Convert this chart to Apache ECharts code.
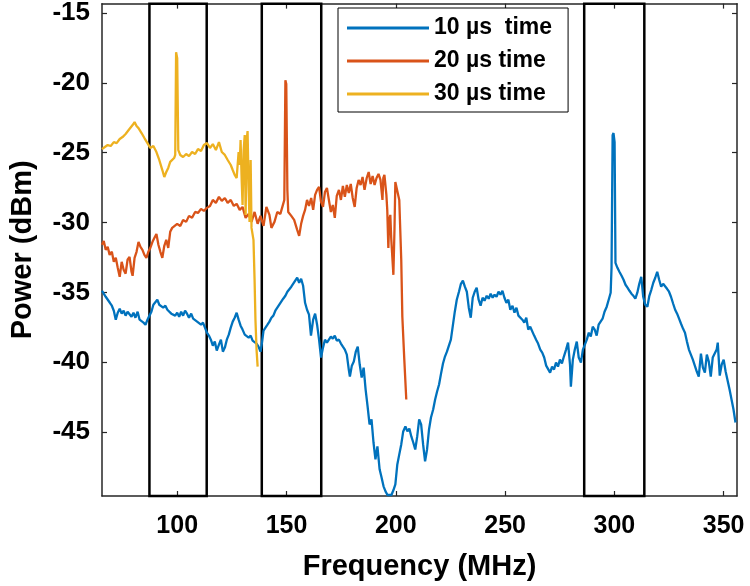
<!DOCTYPE html>
<html><head><meta charset="utf-8">
<script src="https://cdn.jsdelivr.net/npm/echarts@6/dist/echarts.min.js"></script>
<style>html,body{margin:0;padding:0;background:#fff}#c{width:750px;height:586px}</style>
</head><body><div id="c"></div>
<script>
const seriesNames = ['10 µs  time', '20 µs time', '30 µs time'];
const xTicks = [100, 150, 200, 250, 300, 350];
const yTicks = [-45, -40, -35, -30, -25, -20, -15];
const boxRanges = [[87.3, 113.5], [138.7, 165.9], [286.2, 313.7]];

const blueX = [65.6,66.4,67.3,68.2,69.2,70.1,71.0,71.9,72.8,73.7,74.6,75.5,76.4,77.3,78.2,79.1,80.0,80.9,81.9,82.8,83.7,84.6,85.5,86.4,87.3,88.2,89.1,90.0,90.9,91.8,92.7,93.6,94.6,95.5,96.4,97.3,98.2,99.1,100.0,100.9,101.8,102.7,103.6,104.5,105.4,106.4,107.3,108.2,109.1,110.0,110.9,111.8,112.7,113.6,114.5,115.4,116.3,117.2,118.1,119.1,120.0,120.9,121.8,122.7,123.6,124.5,125.4,126.3,127.2,128.1,129.0,129.9,130.9,131.8,132.7,133.6,134.5,135.4,136.3,137.2,138.1,138.6,139.5,140.4,141.3,142.2,143.1,144.0,144.9,145.8,146.7,147.6,148.5,149.5,150.4,151.3,152.2,153.1,154.0,154.9,155.8,156.7,157.6,158.5,159.4,160.3,161.2,162.2,163.1,164.0,164.9,165.8,166.7,167.6,168.5,169.4,170.3,171.2,172.1,173.0,174.0,174.9,175.8,176.7,177.6,178.5,179.0,179.9,180.8,181.7,182.6,183.5,184.4,185.3,186.2,187.1,188.0,188.9,189.8,190.7,191.6,192.6,193.5,194.4,195.3,196.2,197.1,198.0,198.9,199.8,200.7,201.6,202.5,203.4,204.4,205.3,206.2,207.1,208.0,208.9,209.8,210.7,211.6,212.5,213.4,214.3,215.2,216.1,217.1,218.0,218.9,219.8,220.7,221.6,222.5,223.4,224.3,225.2,226.1,227.0,227.9,228.9,229.8,230.7,231.6,232.5,233.4,234.3,235.2,236.1,237.0,237.9,238.8,239.7,240.6,241.6,242.5,243.4,244.3,245.2,246.1,247.0,247.9,248.8,249.7,250.6,251.5,252.4,253.4,254.3,255.2,256.1,257.0,257.9,258.8,259.7,260.6,261.5,262.4,263.3,264.2,265.1,266.1,267.0,267.9,268.8,269.7,270.6,271.5,272.4,273.3,274.2,275.1,276.0,276.9,277.9,278.8,279.7,280.1,281.0,281.9,282.8,283.7,284.7,285.6,286.5,287.4,288.3,289.2,290.1,291.0,291.9,292.8,293.7,294.6,295.5,296.5,297.4,298.3,298.7,299.2,299.6,300.1,300.5,301.4,302.3,303.3,304.2,305.1,306.0,306.9,307.8,308.7,309.6,310.5,311.4,312.3,313.2,314.1,315.1,316.0,316.9,317.8,318.7,319.6,320.5,321.4,322.3,323.2,324.1,325.0,325.9,326.9,327.8,328.7,329.6,330.5,331.4,332.3,333.2,334.1,335.0,335.9,336.8,337.7,338.6,339.6,340.5,341.4,342.3,343.2,344.1,345.0,345.9,346.8,347.3,348.2,349.1,350.0,350.9,351.8,352.7,353.6,354.5,355.4];
const blueY = [-34.88,-35.09,-35.31,-35.24,-35.74,-35.95,-36.31,-36.95,-36.45,-36.16,-36.52,-36.31,-36.66,-36.38,-36.24,-36.74,-36.45,-36.81,-36.38,-36.95,-36.81,-37.16,-37.31,-36.95,-36.66,-36.38,-35.88,-35.74,-35.52,-35.88,-35.74,-36.09,-35.95,-36.24,-36.16,-36.52,-36.38,-36.66,-36.45,-36.74,-36.38,-36.66,-36.31,-36.52,-36.81,-36.52,-36.88,-36.81,-37.09,-36.95,-37.31,-37.16,-37.52,-37.88,-38.09,-38.38,-38.81,-38.52,-39.16,-38.74,-38.38,-39.24,-38.95,-38.38,-38.02,-37.52,-37.09,-36.81,-36.45,-36.95,-37.38,-37.66,-38.02,-37.88,-38.24,-38.09,-38.45,-38.31,-38.66,-38.88,-39.24,-38.81,-37.74,-37.52,-37.31,-37.09,-36.81,-36.66,-36.31,-36.09,-35.95,-35.66,-35.45,-35.24,-34.95,-34.81,-34.59,-34.45,-34.16,-33.95,-34.31,-34.02,-34.52,-35.74,-36.24,-36.59,-38.09,-36.95,-36.52,-37.31,-38.38,-39.66,-38.95,-38.38,-38.59,-38.45,-38.16,-38.31,-38.09,-38.45,-38.38,-38.66,-38.88,-39.09,-39.45,-40.52,-41.02,-40.24,-39.95,-39.24,-38.88,-40.16,-41.09,-40.38,-41.95,-43.16,-44.45,-44.09,-45.74,-46.95,-46.02,-47.66,-48.24,-48.88,-49.24,-49.5,-49.38,-49.5,-49.16,-48.74,-47.31,-46.59,-45.88,-44.95,-44.59,-44.95,-44.74,-45.31,-45.74,-46.24,-45.31,-44.09,-44.45,-45.88,-47.09,-46.24,-44.81,-43.95,-43.38,-42.66,-42.09,-41.59,-40.81,-40.09,-39.59,-39.24,-38.81,-38.38,-37.38,-36.38,-35.52,-34.95,-34.38,-34.16,-34.59,-34.95,-36.09,-36.81,-35.38,-34.95,-34.66,-35.52,-35.95,-35.38,-35.59,-35.24,-35.45,-35.09,-35.38,-35.16,-35.31,-34.95,-35.16,-34.88,-35.38,-35.74,-35.52,-36.24,-35.95,-36.45,-36.09,-36.66,-36.52,-36.95,-37.16,-36.81,-37.66,-37.45,-37.59,-38.09,-38.38,-38.66,-39.09,-39.31,-39.66,-40.24,-40.38,-40.74,-40.31,-40.52,-40.02,-40.31,-39.81,-40.09,-39.59,-39.09,-38.59,-40.16,-41.74,-39.81,-39.09,-38.52,-39.66,-40.02,-39.09,-38.74,-38.38,-37.88,-38.16,-37.45,-37.66,-38.09,-37.31,-37.09,-36.88,-36.38,-36.02,-35.52,-35.02,-33.24,-23.74,-23.59,-24.24,-32.88,-33.24,-33.52,-33.81,-34.09,-34.45,-34.66,-34.88,-35.09,-35.24,-35.45,-35.02,-34.38,-33.88,-35.31,-35.88,-36.02,-35.24,-34.81,-34.31,-33.95,-33.52,-34.09,-34.59,-34.38,-34.45,-34.74,-34.95,-35.31,-35.81,-36.24,-36.52,-36.88,-37.24,-37.59,-37.88,-38.52,-39.09,-39.45,-39.81,-40.24,-40.66,-41.02,-39.38,-40.38,-40.74,-39.45,-39.95,-41.02,-39.66,-39.59,-39.09,-38.59,-40.95,-40.16,-39.81,-40.66,-40.74,-41.95,-42.66,-43.38,-44.31];

const orangeX = [65.6,66.4,67.3,68.2,69.1,70.1,71.0,71.9,72.8,73.7,74.6,75.5,76.4,77.3,78.2,79.1,79.6,80.5,81.4,82.3,83.2,84.1,85.0,85.9,86.8,87.7,88.7,89.6,90.5,91.4,92.3,93.2,94.1,95.0,95.9,96.8,97.7,98.6,100.0,101.4,102.7,104.1,105.4,106.8,108.2,109.5,110.9,112.2,113.6,115.0,116.3,117.7,119.1,120.4,121.8,123.1,124.5,125.9,127.2,128.6,129.9,131.3,132.7,134.0,135.4,136.8,138.1,139.5,140.8,142.2,143.1,144.5,145.8,147.2,148.5,149.0,149.5,149.9,150.4,150.8,152.2,153.5,154.9,155.8,156.7,157.6,158.5,159.4,160.3,161.3,162.2,163.1,164.0,164.9,165.8,166.7,167.6,168.5,169.4,170.3,171.2,172.1,173.0,174.0,174.9,175.8,176.7,177.6,178.5,179.4,180.3,181.2,182.1,183.0,183.9,184.8,185.7,186.7,187.6,188.5,189.4,190.3,191.2,192.1,193.0,193.9,194.3,194.8,195.7,196.1,196.6,197.0,197.5,197.9,198.5,198.9,199.4,199.8,200.7,201.6,202.5,203.0,203.9,204.8];
const orangeY = [-31.59,-31.31,-31.95,-31.74,-32.31,-32.09,-32.81,-32.52,-33.24,-33.88,-32.81,-33.38,-33.66,-32.66,-32.45,-33.52,-33.81,-32.52,-32.09,-31.38,-31.74,-31.95,-32.31,-32.52,-32.09,-31.81,-31.38,-31.09,-30.81,-31.59,-32.09,-32.52,-31.66,-31.24,-31.81,-30.66,-30.38,-30.52,-30.09,-30.24,-29.81,-29.95,-29.52,-29.66,-29.24,-29.31,-29.02,-29.16,-28.95,-28.81,-28.38,-28.59,-28.16,-28.45,-28.24,-28.59,-28.38,-28.81,-28.66,-29.09,-28.88,-29.66,-29.38,-29.95,-29.24,-30.09,-29.52,-30.24,-28.88,-29.45,-30.38,-29.95,-29.24,-29.38,-28.66,-28.38,-19.81,-20.09,-27.66,-29.24,-29.52,-29.81,-30.52,-30.95,-30.09,-29.52,-29.09,-28.38,-28.81,-28.24,-29.09,-28.02,-27.66,-27.45,-28.52,-28.88,-27.81,-27.52,-28.38,-29.24,-28.74,-29.66,-28.09,-27.66,-28.38,-27.38,-28.16,-27.31,-27.88,-27.24,-28.24,-28.88,-27.52,-26.95,-27.31,-26.74,-27.66,-26.81,-26.38,-27.24,-26.66,-27.31,-26.81,-26.52,-26.95,-28.38,-26.81,-26.59,-28.02,-29.09,-31.81,-29.81,-29.45,-31.09,-30.95,-33.74,-30.52,-27.09,-26.95,-28.38,-32.66,-36.74,-39.81,-42.66];

const yellowX = [65.6,66.9,68.2,69.6,71.0,72.3,73.7,75.0,76.4,77.8,78.7,79.6,80.5,81.4,82.3,83.7,85.0,86.4,87.7,89.1,90.5,91.8,93.2,94.1,95.0,95.9,96.8,97.7,98.6,99.1,99.5,100.0,100.5,101.4,102.7,104.1,105.4,106.8,108.2,109.5,110.9,112.2,113.6,115.0,116.3,117.7,119.1,120.4,121.8,123.1,124.5,125.4,126.3,127.2,128.1,128.6,129.0,129.5,129.9,130.4,130.9,131.3,131.8,132.2,132.7,133.1,133.6,134.0,134.9,135.4,135.8,136.3,136.8];
const yellowY = [-24.74,-24.59,-24.45,-24.52,-24.24,-24.31,-24.02,-23.88,-23.66,-23.38,-23.52,-23.02,-22.81,-23.09,-23.24,-23.59,-23.95,-24.31,-24.66,-24.52,-24.95,-25.52,-26.24,-26.74,-26.38,-26.09,-25.66,-25.52,-25.38,-25.16,-17.81,-18.24,-24.81,-25.16,-25.31,-25.09,-25.24,-24.95,-25.09,-24.74,-24.88,-24.45,-24.31,-24.66,-24.38,-24.81,-24.24,-24.95,-25.16,-25.52,-25.88,-26.24,-26.59,-26.81,-24.95,-25.88,-24.09,-26.95,-28.74,-24.81,-23.74,-29.45,-24.09,-23.45,-27.67,-29.95,-25.52,-30.38,-31.24,-34.09,-36.95,-39.09,-40.31];

const xMin = 65.6, xMax = 356.1, yMin = -49.57, yMax = -14.33;
const colors = ['#0072BD', '#D95319', '#EDB120'];
const FONT = '"Liberation Sans", Arial, Helvetica, sans-serif';

function pairs(xs, ys) { return xs.map((x, i) => [x, ys[i]]); }

const chart = echarts.init(document.getElementById('c'), null, {renderer: 'canvas'});
const axisLineStyle = {color: '#262626', width: 1.5};
const tickStyle = {color: '#262626', width: 1.2};
chart.setOption({
  animation: false,
  backgroundColor: '#fff',
  grid: {left: 97, right: 13, top: 3, bottom: 90, containLabel: false},
  legend: {
    orient: 'vertical', left: 338, top: 8,
    data: seriesNames,
    icon: 'rect',
    backgroundColor: '#fff', borderColor: '#000', borderWidth: 1, borderRadius: 0,
    padding: [8, 16, 6, 9],
    itemWidth: 82, itemHeight: 3, itemGap: 9,
    textStyle: {fontFamily: FONT, fontSize: 23, fontWeight: 'bold', color: '#000', lineHeight: 24},
    z: 20
  },
  xAxis: [{
    type: 'value', min: xMin, max: xMax, position: 'bottom',
    name: 'Frequency (MHz)', nameLocation: 'middle', nameGap: 56,
    nameTextStyle: {fontFamily: FONT, fontSize: 29, fontWeight: 'bold', color: '#000'},
    axisLine: {show: true, lineStyle: axisLineStyle},
    axisTick: {show: true, inside: true, length: 5, lineStyle: tickStyle, customValues: xTicks},
    axisLabel: {show: true, margin: 18, fontFamily: FONT, fontSize: 25, fontWeight: 'bold', color: '#000', customValues: xTicks},
    splitLine: {show: false}
  }, {
    type: 'value', min: xMin, max: xMax, position: 'top',
    axisLine: {show: true, lineStyle: axisLineStyle},
    axisTick: {show: true, inside: true, length: 5, lineStyle: tickStyle, customValues: xTicks},
    axisLabel: {show: false}, splitLine: {show: false}
  }],
  yAxis: [{
    type: 'value', min: yMin, max: yMax, position: 'left',
    name: 'Power (dBm)', nameLocation: 'middle', nameGap: 65, nameRotate: 90,
    nameTextStyle: {fontFamily: FONT, fontSize: 29, fontWeight: 'bold', color: '#000'},
    axisLine: {show: true, lineStyle: axisLineStyle},
    axisTick: {show: true, inside: true, length: 5, lineStyle: tickStyle, customValues: yTicks},
    axisLabel: {show: true, margin: 12, fontFamily: FONT, fontSize: 26, fontWeight: 'bold', color: '#000', customValues: yTicks},
    splitLine: {show: false}
  }, {
    type: 'value', min: yMin, max: yMax, position: 'right',
    axisLine: {show: true, lineStyle: axisLineStyle},
    axisTick: {show: true, inside: true, length: 5, lineStyle: tickStyle, customValues: yTicks},
    axisLabel: {show: false}, splitLine: {show: false}
  }],
  series: [
    {name: seriesNames[0], type: 'line', data: pairs(blueX, blueY), symbol: 'none', color: colors[0], lineStyle: {width: 2.3, color: colors[0]}, z: 2},
    {name: seriesNames[1], type: 'line', data: pairs(orangeX, orangeY), symbol: 'none', color: colors[1], lineStyle: {width: 2.3, color: colors[1]}, z: 3},
    {name: seriesNames[2], type: 'line', data: pairs(yellowX, yellowY), symbol: 'none', color: colors[2], lineStyle: {width: 2.3, color: colors[2]}, z: 4},
    {name: 'boxes', type: 'line', data: [], z: 10, silent: true,
      markArea: {silent: true,
        itemStyle: {color: 'rgba(0,0,0,0)', borderColor: '#000', borderWidth: 2.5},
        data: boxRanges.map(r => [{xAxis: r[0], yAxis: yMin}, {xAxis: r[1], yAxis: yMax}])}}
  ]
});
</script></body></html>
